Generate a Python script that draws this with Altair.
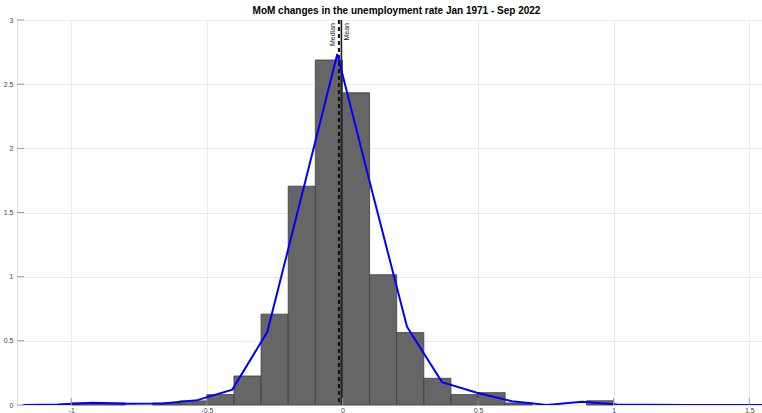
import altair as alt
import pandas as pd

# Histogram of month-over-month changes (density-normalised), bin width 0.1
bin_start = [-1.0, -0.9, -0.7, -0.6, -0.5, -0.4, -0.3, -0.2, -0.1, 0.0,
             0.1, 0.2, 0.3, 0.4, 0.5, 0.6, 0.9]
bin_end = [-0.9, -0.8, -0.6, -0.5, -0.4, -0.3, -0.2, -0.1, 0.0, 0.1,
           0.2, 0.3, 0.4, 0.5, 0.6, 0.7, 1.0]
density = [0.016, 0.016, 0.016, 0.032, 0.081, 0.226, 0.708, 1.705, 2.688, 2.433,
           1.015, 0.564, 0.208, 0.081, 0.096, 0.016, 0.033]

# Kernel density estimate evaluated on an evenly spaced grid
kde_x = [-1.179, -1.050, -0.921, -0.792, -0.663, -0.535, -0.406, -0.277, -0.148,
         -0.019, 0.110, 0.238, 0.367, 0.496, 0.625, 0.754, 0.883, 1.012, 1.141,
         1.270, 1.399, 1.528, 1.657]
kde_y = [0.0, 0.004, 0.017, 0.009, 0.012, 0.038, 0.12, 0.57, 1.65,
         2.735, 1.66, 0.61, 0.178, 0.095, 0.03, 0.0, 0.026, 0.004, 0.001,
         0.0, 0.0, 0.0, 0.0]

stat_name = ["Median", "Mean"]
stat_value = [-0.013, -0.004]

x_ticks = [-1, -0.5, 0, 0.5, 1, 1.5]
y_ticks = [0, 0.5, 1, 1.5, 2, 2.5, 3]

title_text = "MoM changes in the unemployment rate Jan 1971 - Sep 2022"

W, H = 745, 385
FONT = "Liberation Sans"
AXIS_GRAY = "#9a9a9a"

xs = alt.Scale(domain=[-1.2, 1.547], nice=False, zero=False)
ys = alt.Scale(domain=[0, 3], nice=False)

bars_df = pd.DataFrame({"x0": bin_start, "x1": bin_end, "d": density})
kde_df = pd.DataFrame({"x": kde_x, "y": kde_y})
stat_df = pd.DataFrame({"name": stat_name, "v": stat_value})
xt_df = pd.DataFrame({"t": x_ticks})
yt_df = pd.DataFrame({"t": y_ticks})

x_axis = alt.Axis(values=x_ticks, labelExpr="toString(datum.value)", title=None,
                  grid=True, gridColor="#ebebeb", domain=False, ticks=False,
                  labelFont=FONT, labelFontSize=7, labelColor="#444444",
                  labelPadding=1, labelFlush=False)
y_axis = alt.Axis(values=y_ticks, labelExpr="toString(datum.value)", title=None,
                  grid=True, gridColor="#ebebeb", domain=False, ticks=False,
                  labelFont=FONT, labelFontSize=7, labelColor="#444444",
                  labelPadding=4)

bars = alt.Chart(bars_df).mark_rect(
    fill="#666666", stroke="#3c3c3c", strokeWidth=0.8
).encode(
    x=alt.X("x0:Q", scale=xs, axis=x_axis),
    x2="x1:Q",
    y=alt.Y("d:Q", scale=ys, axis=y_axis),
    y2=alt.datum(0),
)

kde = alt.Chart(kde_df).mark_line(color="#0000ff", strokeWidth=2, clip=True).encode(
    x=alt.X("x:Q", scale=xs),
    y=alt.Y("y:Q", scale=ys),
)

median_rule = alt.Chart(stat_df[stat_df.name == "Median"]).mark_rule(
    color="#111111", strokeWidth=2, strokeDash=[4, 3]
).encode(x=alt.X("v:Q", scale=xs), y=alt.value(0), y2=alt.value(H))

mean_rule = alt.Chart(stat_df[stat_df.name == "Mean"]).mark_rule(
    color="#222222", strokeWidth=1.6
).encode(x=alt.X("v:Q", scale=xs), y=alt.value(0), y2=alt.value(H))

median_label = alt.Chart(stat_df[stat_df.name == "Median"]).mark_text(
    angle=270, align="right", baseline="middle", font=FONT, fontSize=7,
    color="#222222", xOffset=-6
).encode(x=alt.X("v:Q", scale=xs), y=alt.value(3), text="name:N")

mean_label = alt.Chart(stat_df[stat_df.name == "Mean"]).mark_text(
    angle=270, align="right", baseline="middle", font=FONT, fontSize=7,
    color="#222222", xOffset=6
).encode(x=alt.X("v:Q", scale=xs), y=alt.value(3), text="name:N")

# Inward tick marks along the bottom and left edges
x_tick_marks = alt.Chart(xt_df).mark_rule(color=AXIS_GRAY, strokeWidth=1).encode(
    x=alt.X("t:Q", scale=xs), y=alt.value(H), y2=alt.value(H - 7)
)
y_tick_marks = alt.Chart(yt_df).mark_rule(color=AXIS_GRAY, strokeWidth=1).encode(
    y=alt.Y("t:Q", scale=ys), x=alt.value(0), x2=alt.value(7)
)

chart = alt.layer(
    bars, median_rule, mean_rule, kde, median_label, mean_label,
    x_tick_marks, y_tick_marks
).properties(
    width=W, height=H,
    title=alt.TitleParams(title_text, font=FONT, fontSize=10, fontWeight="bold",
                          color="black", anchor="middle", offset=5, dx=7, dy=5),
    autosize=alt.AutoSizeParams(type="none"),
    padding={"left": 17, "top": 20, "right": 0, "bottom": 8},
).configure_view(
    stroke=AXIS_GRAY, strokeWidth=1
).configure(background="white")

chart.save("out.html", embed_options={"renderer": "svg", "actions": False})
